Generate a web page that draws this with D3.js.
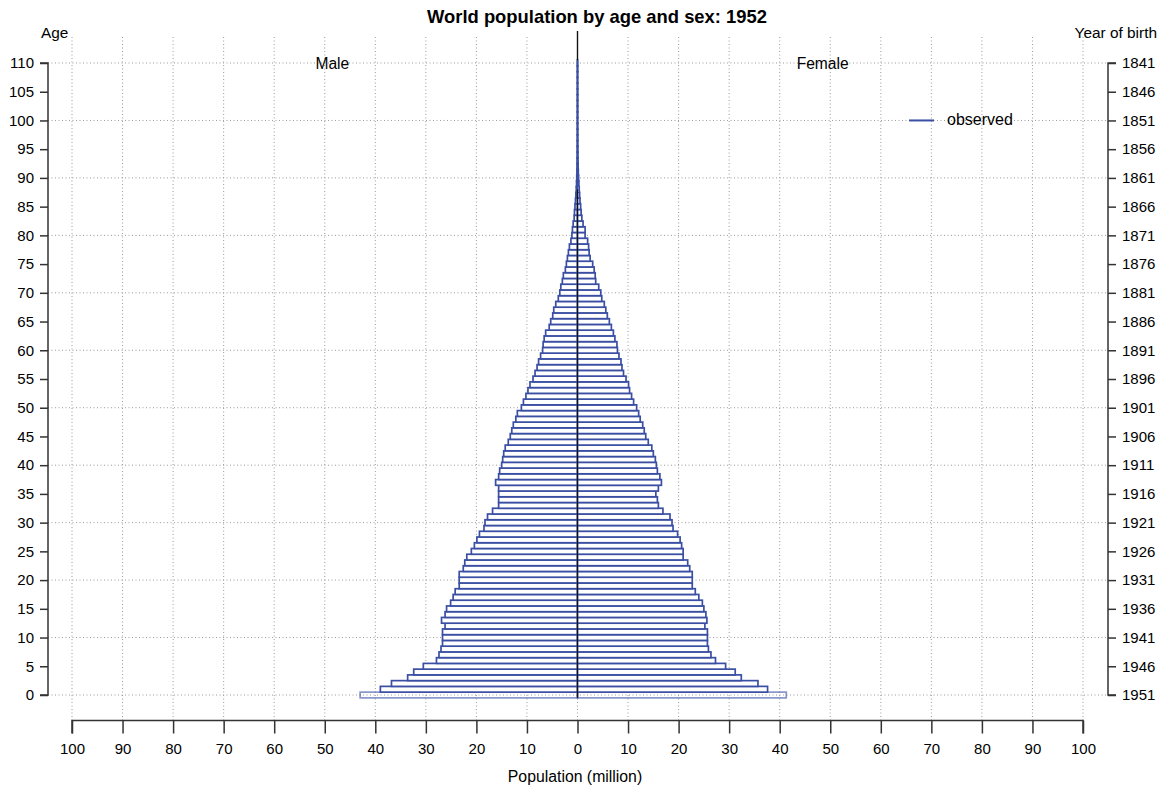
<!DOCTYPE html>
<html>
<head>
<meta charset="utf-8">
<script src="https://cdn.jsdelivr.net/npm/d3@7/dist/d3.min.js"></script>
<style>
  html, body { margin: 0; padding: 0; background: #fff; }
  svg { display: block; font-family: "Liberation Sans", Arial, Helvetica, sans-serif; }
</style>
</head>
<body>
<svg id="chart" width="1160" height="790"></svg>
<script>
// ---- data (million persons, single years of age 0..110) ----
const ages = d3.range(0, 111);
const male = [
  43.0, 39.0, 36.8, 33.6, 32.4, 30.5, 27.9, 27.4, 27.0, 26.7,
  26.7, 26.7, 26.2, 26.9, 26.2, 25.9, 25.1, 24.6, 24.2, 23.4,
  23.4, 23.4, 22.6, 22.3, 21.9, 21.0, 20.4, 19.9, 19.4, 18.5,
  18.3, 17.8, 16.8, 15.6, 15.6, 15.6, 15.6, 16.2, 15.6, 15.4,
  15.0, 14.8, 14.6, 14.3, 13.7, 13.3, 13.0, 12.7, 12.2, 11.9,
  11.1, 10.7, 10.2, 9.8, 9.4, 8.8, 8.4, 8.0, 7.7, 7.3,
  6.9, 6.8, 6.6, 6.3, 5.6, 5.3, 4.9, 4.7, 4.3, 3.8,
  3.5, 3.3, 3.0, 2.8, 2.4, 2.2, 2.0, 1.8, 1.6, 1.3,
  1.1, 1.0, 0.86, 0.66, 0.6, 0.5, 0.4, 0.32, 0.25, 0.19,
  0.15, 0.11, 0.08, 0.06, 0.045, 0.035, 0.025, 0.018, 0.013, 0.009,
  0.006, 0.004, 0.003, 0.002, 0.0015, 0.001, 0.001, 0.0005, 0.0005, 0.0003, 0.0002
];
const female = [
  41.3, 37.6, 35.7, 32.4, 31.2, 29.3, 27.3, 26.4, 25.9, 25.7,
  25.7, 25.7, 25.2, 25.6, 25.4, 25.0, 24.7, 24.0, 23.3, 22.7,
  22.7, 22.7, 22.2, 21.8, 20.9, 20.9, 20.6, 20.3, 19.8, 18.9,
  18.7, 18.3, 16.9, 16.0, 15.8, 15.5, 16.0, 16.6, 16.3, 15.8,
  15.6, 15.4, 15.0, 14.7, 14.0, 13.5, 13.2, 12.9, 12.4, 12.1,
  11.7, 11.1, 10.7, 10.3, 10.1, 9.6, 9.1, 8.8, 8.6, 8.2,
  7.9, 7.8, 7.4, 7.1, 6.7, 6.3, 5.9, 5.6, 5.3, 4.8,
  4.6, 4.2, 3.6, 3.5, 3.3, 3.0, 2.5, 2.3, 2.2, 2.0,
  1.5, 1.5, 1.1, 0.86, 0.72, 0.62, 0.5, 0.42, 0.34, 0.27,
  0.21, 0.16, 0.12, 0.09, 0.065, 0.05, 0.035, 0.025, 0.018, 0.012,
  0.008, 0.006, 0.004, 0.003, 0.002, 0.0015, 0.001, 0.0008, 0.0005, 0.0004, 0.0003
];
const xTicks = d3.range(-100, 101, 10);
const ageTicks = d3.range(0, 111, 5);
const ageGrid = d3.range(0, 111, 10);
const yearOfBirth = ageTicks.map(a => 1951 - a);
const titleText = "World population by age and sex: 1952";
const legendLabel = "observed";

// ---- layout ----
const svg = d3.select("#chart");
const x = d3.scaleLinear().domain([-100, 100]).range([72, 1083]);
const y = d3.scaleLinear().domain([0, 110]).range([695, 63]);
const barColor = "#3a4fa3";
const gridColor = "#9a9a9a";
const axisColor = "#333";

// grid
svg.append("g").selectAll("line").data(xTicks).join("line")
  .attr("x1", d => x(d)).attr("x2", d => x(d))
  .attr("y1", 37).attr("y2", 720)
  .attr("stroke", gridColor).attr("stroke-width", 1)
  .attr("stroke-dasharray", "1,2.5");
svg.append("g").selectAll("line").data(ageGrid).join("line")
  .attr("x1", 48).attr("x2", 1108)
  .attr("y1", d => y(d)).attr("y2", d => y(d))
  .attr("stroke", gridColor).attr("stroke-width", 1)
  .attr("stroke-dasharray", "1,2.5");

// center line (behind bars)
svg.append("line")
  .attr("x1", x(0)).attr("x2", x(0))
  .attr("y1", 31).attr("y2", y(-0.5))
  .attr("stroke", "#111").attr("stroke-width", 1.2);

// bars
const bars = svg.append("g");
const rows = ages.map((a, i) => ({ age: a, m: male[i], f: female[i] }));
bars.selectAll("rect.m").data(rows).join("rect")
  .attr("class", "m")
  .attr("x", d => x(-d.m)).attr("width", d => x(0) - x(-d.m))
  .attr("y", d => y(d.age + 0.5)).attr("height", d => y(d.age - 0.5) - y(d.age + 0.5))
  .attr("fill", d => d.age === 0 ? "none" : "#fff")
  .attr("stroke", barColor).attr("stroke-opacity", d => d.age === 0 ? 0.6 : 1)
  .attr("stroke-width", 1.7);
bars.selectAll("rect.f").data(rows).join("rect")
  .attr("class", "f")
  .attr("x", x(0)).attr("width", d => x(d.f) - x(0))
  .attr("y", d => y(d.age + 0.5)).attr("height", d => y(d.age - 0.5) - y(d.age + 0.5))
  .attr("fill", d => d.age === 0 ? "none" : "#fff")
  .attr("stroke", barColor).attr("stroke-opacity", d => d.age === 0 ? 0.6 : 1)
  .attr("stroke-width", 1.7);

// center line over the wider bars and above the top bar
svg.append("line")
  .attr("x1", x(0)).attr("x2", x(0))
  .attr("y1", y(88)).attr("y2", y(-0.5))
  .attr("stroke", "#111").attr("stroke-width", 1.2);
svg.append("line")
  .attr("x1", x(0)).attr("x2", x(0))
  .attr("y1", 31).attr("y2", y(110.5))
  .attr("stroke", "#111").attr("stroke-width", 1.2);

// axes
const fontTick = "15px";
const leftAxis = d3.axisLeft(y).tickValues(ageTicks).tickSize(8).tickPadding(6).tickFormat(d3.format("d"));
const gL = svg.append("g").attr("transform", "translate(48,0)").call(leftAxis);
const rightAxis = d3.axisRight(y).tickValues(ageTicks).tickSize(8).tickPadding(6)
  .tickFormat((d, i) => yearOfBirth[i]);
const gR = svg.append("g").attr("transform", "translate(1108,0)").call(rightAxis);
const bottomAxis = d3.axisBottom(x).tickValues(xTicks).tickSize(13).tickPadding(10)
  .tickFormat(d => Math.abs(d));
const gB = svg.append("g").attr("transform", "translate(0,720.5)").call(bottomAxis);
[gL, gR, gB].forEach(g => {
  g.select(".domain").attr("stroke", axisColor).attr("stroke-width", 1.5);
  g.selectAll(".tick line").attr("stroke", axisColor).attr("stroke-width", 1.5);
  g.selectAll(".tick text").attr("fill", "#000")
    .style("font-size", fontTick)
    .style("font-family", '"Liberation Sans", Arial, Helvetica, sans-serif');
});
gL.select(".domain").attr("d", `M-8,${y(0)}H0V${y(110)}H-8`);
gR.select(".domain").attr("d", `M8,${y(0)}H0V${y(110)}H8`);
gB.select(".domain").attr("d", `M${x(-100)},13V0H${x(100)}V13`);

// texts
const txt = (s, xx, yy, anchor, size, weight) => svg.append("text")
  .attr("x", xx).attr("y", yy).attr("text-anchor", anchor)
  .style("font-size", size).style("font-weight", weight || "normal")
  .attr("fill", "#000").text(s);
txt(titleText, 597, 23, "middle", "18.4px", "bold");
txt("Age", 41, 38, "start", "15.4px");
txt("Year of birth", 1157, 38, "end", "15.4px");
txt("Male", x(-48.5), 69, "middle", "15.6px");
txt("Female", x(48.5), 69, "middle", "15.6px");
txt("Population (million)", 575, 782, "middle", "15.8px");

// legend
svg.append("line").attr("x1", 909).attr("x2", 934).attr("y1", y(100)).attr("y2", y(100))
  .attr("stroke", barColor).attr("stroke-width", 2);
txt(legendLabel, 947, y(100) + 5, "start", "16px");
</script>
</body>
</html>
